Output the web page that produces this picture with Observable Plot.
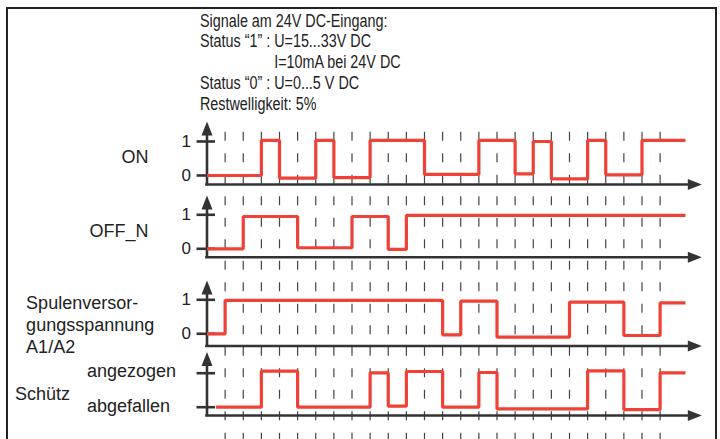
<!DOCTYPE html>
<html>
<head>
<meta charset="utf-8">
<script src="https://cdn.jsdelivr.net/npm/d3@7"></script>
<script src="https://cdn.jsdelivr.net/npm/@observablehq/plot@0.6"></script>
<style>
  html, body { margin: 0; padding: 0; background: #fff; }
  body { width: 720px; height: 439px; overflow: hidden; position: relative;
         font-family: "Liberation Sans", Arial, sans-serif; color: #222; }
  #frame { position: absolute; left: 6px; top: 7px; width: 711px; height: 460px;
           border: 2px solid #222; box-sizing: border-box; pointer-events: none; }
  #header { position: relative; height: 115px; }
  #header .block { position: absolute; left: 200px; top: 10.5px; font-size: 17.5px;
                   line-height: 20.8px; white-space: pre; transform-origin: 0 0; }
  #chart { position: relative; height: 324px; }
</style>
</head>
<body>
<div id="frame"></div>
<div id="header"><div class="block" id="hblock"></div></div>
<div id="chart"></div>
<script>
// ---------- data ----------
const headerLines = [
  "Signale am 24V DC-Eingang:",
  "Status \u201c1\u201d : U=15...33V DC",
  "I=10mA bei 24V DC",
  "Status \u201c0\u201d : U=0...5 V DC",
  "Restwelligkeit: 5%"
];
const headerIndentRef = "Status \u201c1\u201d : ";
const rowLabels = ["ON", "OFF_N", "Spulenversor-\ngungsspannung\nA1/A2", "Sch\u00fctz"];
const tickLabels = ["1", "0"];
const tickLevels = [1, 0];
const stateLabels = ["angezogen", "abgefallen"];
const gridTimes = [1,2,3,4,5,6,7,8,9,10,11,12,13,14,15,16,17,18,19,20,21,22,23,24,25];

// signal ON
const onTimes  = [0, 3, 4, 6, 7, 9, 12, 15, 17, 18, 19, 21, 22, 24, 26.4];
const onLevels = [0, 1.03, -0.08, 1.03, -0.06, 1.03, 0.03, 1.03, 0.05, 1.0, -0.1, 1.03, 0.02, 1.03, 1.03];
// signal OFF_N
const offTimes  = [0, 2, 5, 8, 10, 11, 26.4];
const offLevels = [0, 0.95, 0.03, 0.95, -0.02, 0.98, 0.98];
// Spulenversorgungsspannung A1/A2
const coilTimes  = [0, 1, 13, 14, 16, 20, 23, 25, 26.4];
const coilLevels = [0, 0.98, -0.03, 0.96, -0.1, 0.93, -0.05, 0.91, 0.91];
// Schütz (angezogen = 1, abgefallen = 0)
const relayTimes  = [0.5, 3, 5, 9, 10, 11, 13, 15, 16, 21, 23, 25, 26.4];
const relayLevels = [0, 1.06, 0, 1.01, 0.03, 1.05, 0, 1.02, -0.05, 1.07, -0.07, 1.01, 1.01];

// ---------- layout (row placement in level units) ----------
const rowBase = [7.765, 5.609, 3.109, 0.95];
const rowAxis = [7.5, 5.362, 2.75, 0.706];
const rowTip  = [9.35, 7.18, 4.68, 2.57];
const labelX = [-3.23, -3.23, -9.98, -10.6];
const labelLevel = [0.54, 0.51, 0.3, 0.42];
const stateX = -6.62;
const stateLevel = [1.05, 0.04];
const xMax = 27.3;
const gridTop = 9.038;

// ---------- header ----------
function hasFont(name) {
  const c = document.createElement("canvas").getContext("2d");
  const s = "Signale am 24V DC-Eingang Wg";
  c.font = "20px monospace"; const a = c.measureText(s).width;
  c.font = `20px "${name}", monospace`; const b = c.measureText(s).width;
  return Math.abs(a - b) > 0.5;
}
const hb = document.getElementById("hblock");
if (hasFont("Liberation Sans Narrow")) {
  hb.style.fontFamily = '"Liberation Sans Narrow", "Arial Narrow", sans-serif';
} else {
  hb.style.transform = "scaleX(0.82)";
}
// measure the indent so that line 3 lines up with "U=" of line 2
const probe = document.createElement("span");
probe.textContent = headerIndentRef;
probe.style.whiteSpace = "pre";
hb.appendChild(probe);
const indent = probe.getBoundingClientRect().width /
  (hb.style.transform ? 0.82 : 1);
hb.removeChild(probe);
headerLines.forEach((t, i) => {
  const d = document.createElement("div");
  d.textContent = t;
  if (i === 2) d.style.paddingLeft = indent + "px";
  hb.appendChild(d);
});

// ---------- chart ----------
const rows = [0, 1, 2, 3];
const series = [
  {row: 0, t: onTimes, v: onLevels},
  {row: 1, t: offTimes, v: offLevels},
  {row: 2, t: coilTimes, v: coilLevels},
  {row: 3, t: relayTimes, v: relayLevels}
];
const signal = series.flatMap(s => s.t.map((t, i) => ({row: s.row, t, y: rowBase[s.row] + s.v[i]})));
const ticks = rows.flatMap(r => tickLevels.map((l, j) => ({row: r, level: l, label: tickLabels[j]})));
const numTicks = ticks.filter(d => d.row < 3);
const rowText = rows.map(r => ({row: r, text: rowLabels[r]}));
const stateText = stateLabels.map((s, j) => ({text: s, level: stateLevel[j]}));

const arrowUp = {
  draw(ctx) { ctx.moveTo(0, 0); ctx.lineTo(5.5, 14); ctx.lineTo(-5.5, 14); ctx.closePath(); }
};
const axisColor = "#333";
const redColor = "#ef4136";

const chart = Plot.plot({
  width: 720, height: 324,
  marginLeft: 206.5, marginRight: 18.7, marginTop: 0, marginBottom: 0,
  x: {domain: [0, xMax], axis: null},
  y: {domain: [0, 324 / 34], axis: null},
  style: {background: "transparent", overflow: "visible",
          fontFamily: '"Liberation Sans", Arial, sans-serif', color: "#222"},
  marks: [
    Plot.ruleX(gridTimes, {x: d => d, y1: () => gridTop, y2: () => 0,
      stroke: "#444", strokeWidth: 1.2, strokeDasharray: "9,12.5"}),
    Plot.ruleY(rows, {y: r => rowAxis[r], x1: () => 0, x2: () => xMax - 0.4,
      stroke: axisColor, strokeWidth: 2.6, strokeLinecap: "square"}),
    Plot.ruleX(rows, {x: () => 0, y1: r => rowAxis[r], y2: r => rowTip[r] - 0.3,
      stroke: axisColor, strokeWidth: 2.6, strokeLinecap: "square"}),
    Plot.dot(rows, {x: () => 0, y: r => rowTip[r], symbol: arrowUp, fill: axisColor, stroke: "none", r: 5}),
    Plot.dot(rows, {x: () => xMax, y: r => rowAxis[r], symbol: arrowUp, rotate: 90, fill: axisColor, stroke: "none", r: 5}),
    Plot.ruleY(ticks, {y: d => rowBase[d.row] + d.level, x1: () => -0.55, x2: () => 0.47,
      stroke: axisColor, strokeWidth: 2.6}),
    Plot.line(signal, {x: "t", y: "y", z: "row", curve: "step-after",
      stroke: redColor, strokeWidth: 3.2, strokeLinejoin: "miter", strokeLinecap: "butt"}),
    Plot.text(numTicks, {x: () => -0.88, y: d => rowBase[d.row] + d.level, text: "label",
      textAnchor: "end", lineAnchor: "middle", fontSize: 17, fill: "#222"}),
    Plot.text(rowText.filter(d => d.row < 2), {x: d => labelX[d.row], y: d => rowBase[d.row] + labelLevel[d.row],
      text: "text", textAnchor: "end", lineAnchor: "middle", fontSize: 18, fill: "#222"}),
    Plot.text(rowText.filter(d => d.row >= 2), {x: d => labelX[d.row], y: d => rowBase[d.row] + labelLevel[d.row],
      text: "text", textAnchor: "start", lineAnchor: "middle", fontSize: 18, lineHeight: 1.22, fill: "#222"}),
    Plot.text(stateText, {x: () => stateX, y: d => rowBase[3] + d.level, text: "text",
      textAnchor: "start", lineAnchor: "middle", fontSize: 18, fill: "#222"})
  ]
});
document.getElementById("chart").appendChild(chart);
</script>
</body>
</html>
